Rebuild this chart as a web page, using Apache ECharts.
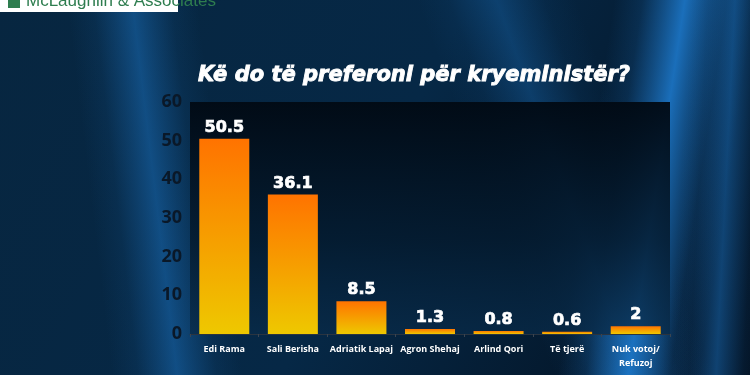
<!DOCTYPE html>
<html><head><meta charset="utf-8">
<script src="https://cdn.jsdelivr.net/npm/echarts@6/dist/echarts.min.js"></script>
<style>html,body{margin:0;padding:0;background:#041322;}#c{width:750px;height:375px;}</style>
</head><body><div id="c"></div>
<script>
const title = 'Kë do të preferoni për kryeministër?';
const categories = ['Edi Rama','Sali Berisha','Adriatik Lapaj','Agron Shehaj','Arlind Qori','Të tjerë','Nuk votoj/\nRefuzoj'];
const values = [50.5, 36.1, 8.5, 1.3, 0.8, 0.6, 2];
const yTicks = [0, 10, 20, 30, 40, 50, 60];

const chart = echarts.init(document.getElementById('c'));
function ray(x, y, w, h, rot, alpha) {
  return {
    type: 'rect', x: x, y: y, rotation: rot, z: -10, silent: true,
    shape: { x: -w / 2, y: 0, width: w, height: h },
    style: {
      fill: new echarts.graphic.LinearGradient(0, 0, 1, 0, [
        { offset: 0, color: 'rgba(30,120,200,0)' },
        { offset: 0.2, color: 'rgba(30,122,205,' + (alpha * 0.2) + ')' },
        { offset: 0.35, color: 'rgba(30,122,205,' + (alpha * 0.6) + ')' },
        { offset: 0.5, color: 'rgba(30,125,210,' + alpha + ')' },
        { offset: 0.65, color: 'rgba(30,122,205,' + (alpha * 0.6) + ')' },
        { offset: 0.8, color: 'rgba(30,122,205,' + (alpha * 0.2) + ')' },
        { offset: 1, color: 'rgba(30,120,200,0)' }
      ])
    }
  };
}
chart.setOption({
  backgroundColor: new echarts.graphic.LinearGradient(0, 0, 1, 1, [
    { offset: 0, color: '#072640' },
    { offset: 0.5, color: '#062846' },
    { offset: 1, color: '#03101f' }
  ]),
  graphic: [
    ray(120, -100, 130, 600, 0.12, 0.45),
    ray(700, -100, 140, 600, -0.15, 0.85),
    ray(740, -100, 90, 600, -0.05, 0.45),
    ray(460, -100, 150, 600, 0.35, 0.3),
    { type: 'rect', z: 10, shape: { x: 0, y: 0, width: 178, height: 12 }, style: { fill: '#ffffff' } },
    { type: 'rect', z: 11, shape: { x: 8, y: 0, width: 12, height: 8 }, style: { fill: '#2e7d4f' } },
    { type: 'text', z: 11, x: 26, y: -7, style: { text: 'McLaughlin & Associates', fill: '#2e7d4f', font: '17px "Liberation Sans", Arial' } },
    { type: 'text', z: 11, x: 414, y: 65, style: { text: title, fill: '#ffffff', align: 'center', stroke: '#ffffff', lineWidth: 0.9, font: 'oblique bold 21px "DejaVu Sans", sans-serif' } }
  ],
  grid: { left: 190, right: 80, top: 102, bottom: 41, show: true, borderWidth: 0,
    backgroundColor: new echarts.graphic.LinearGradient(0, 0, 0, 1, [
      { offset: 0, color: 'rgba(1,10,20,0.96)' },
      { offset: 0.6, color: 'rgba(4,26,46,0.85)' },
      { offset: 1, color: 'rgba(8,42,72,0.75)' }
    ]) },
  xAxis: {
    type: 'category', data: categories,
    axisLine: { lineStyle: { color: '#2a3440', width: 1 } },
    axisTick: { show: true, length: 3, lineStyle: { color: '#3a4450' } },
    axisLabel: { color: '#ffffff', fontSize: 9, fontWeight: 'bold', fontFamily: 'Open Sans', margin: 8, lineHeight: 14, interval: 0 }
  },
  yAxis: {
    type: 'value', min: 0, max: 60, interval: 10,
    splitLine: { show: false },
    axisLine: { show: false },
    axisLabel: { color: '#0a1828', fontSize: 18, fontWeight: 'bold', fontFamily: 'Open Sans', margin: 8,
      formatter: v => yTicks.includes(v) ? String(v) : '' }
  },
  series: [{
    type: 'bar', data: values, barWidth: 50,
    itemStyle: {
      color: new echarts.graphic.LinearGradient(0, 0, 0, 1, [
        { offset: 0, color: '#ff7300' },
        { offset: 1, color: '#eec800' }
      ])
    },
    label: { show: true, position: 'top', color: '#ffffff', fontSize: 16, fontWeight: 'bold', fontFamily: 'DejaVu Sans', distance: 3, textBorderColor: '#ffffff', textBorderWidth: 0.7 }
  }]
});
</script></body></html>
